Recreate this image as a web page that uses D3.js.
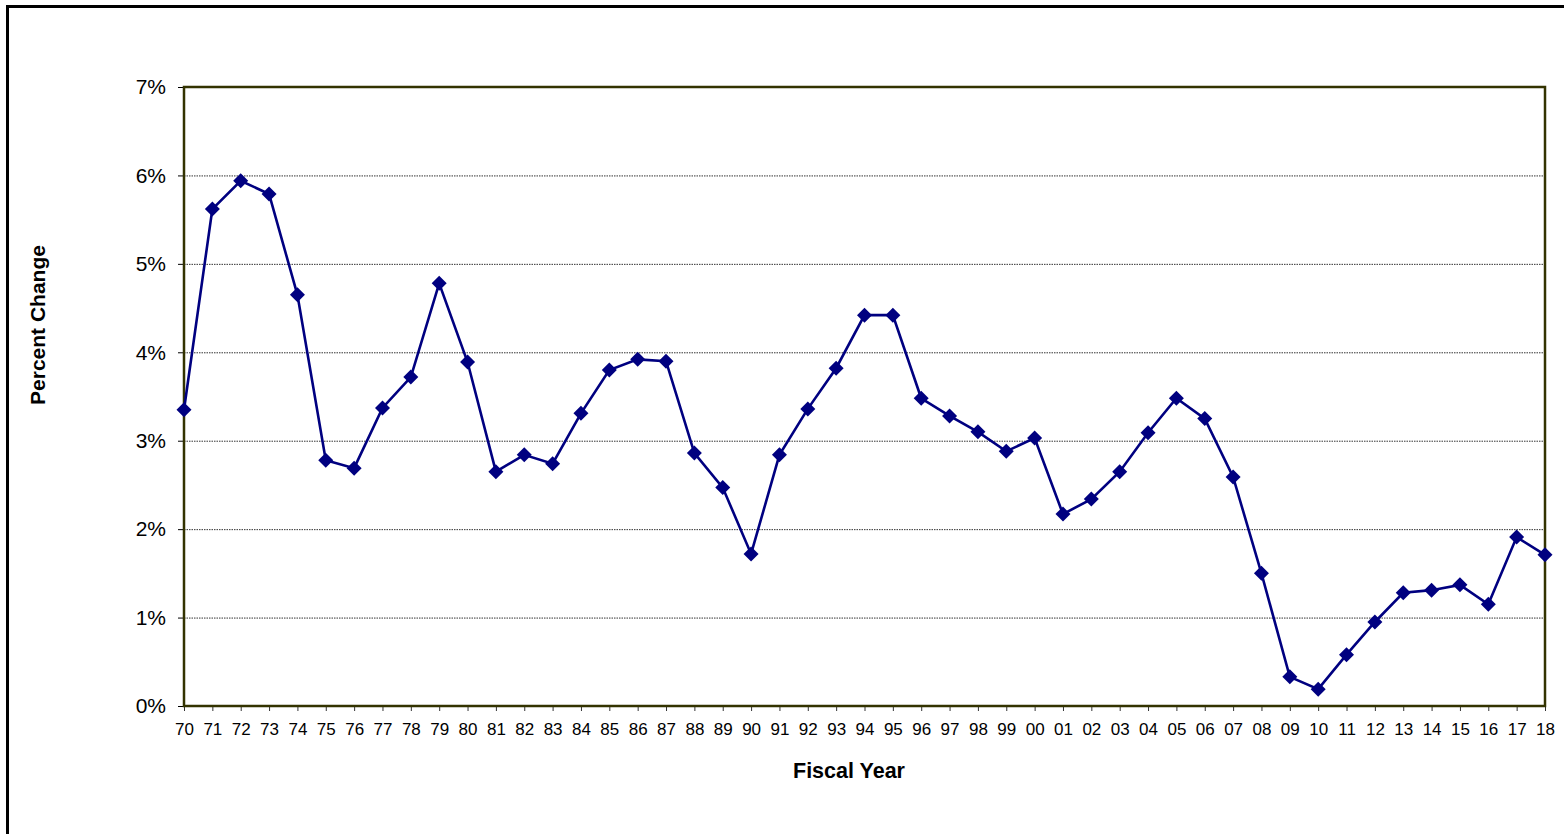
<!DOCTYPE html>
<html>
<head>
<meta charset="utf-8">
<script src="https://cdn.jsdelivr.net/npm/d3@7"></script>
<style>
  body { margin: 0; background: #fff; }
  svg { display: block; font-family: "Liberation Sans", Arial, sans-serif; }
</style>
</head>
<body>
<svg id="chart" width="1564" height="834"></svg>
<script>
const years = ['70','71','72','73','74','75','76','77','78','79','80','81','82','83','84','85','86','87','88','89',
  '90','91','92','93','94','95','96','97','98','99','00','01','02','03','04','05','06','07','08','09',
  '10','11','12','13','14','15','16','17','18'];
const pctChange = [3.35, 5.62, 5.94, 5.79, 4.65, 2.78, 2.69, 3.37, 3.72, 4.78, 3.89, 2.65, 2.84, 2.74, 3.31, 3.80, 3.92, 3.90, 2.86, 2.47,
  1.72, 2.84, 3.36, 3.82, 4.42, 4.42, 3.48, 3.28, 3.10, 2.88, 3.03, 2.17, 2.34, 2.65, 3.09, 3.48, 3.25, 2.59, 1.50, 0.33,
  0.19, 0.58, 0.95, 1.28, 1.31, 1.37, 1.15, 1.91, 1.71];
const yTicks = [0, 1, 2, 3, 4, 5, 6, 7];

const svg = d3.select('#chart');
const margin = { top: 87, left: 184, right: 19, bottom: 128 };
const width = 1564 - margin.left - margin.right;
const height = 834 - margin.top - margin.bottom;

// outer chart frame
svg.append('rect')
  .attr('x', 7.5).attr('y', 6.5)
  .attr('width', 1600).attr('height', 900)
  .attr('fill', 'none').attr('stroke', '#000').attr('stroke-width', 3);

const g = svg.append('g').attr('transform', `translate(${margin.left},${margin.top})`);

const x = d3.scalePoint().domain(years).range([0, width]).padding(0);
const y = d3.scaleLinear().domain([0, 7]).range([height, 0]);

// gridlines
g.append('g')
  .selectAll('line')
  .data(yTicks.slice(1, -1))
  .join('line')
  .attr('x1', 0).attr('x2', width)
  .attr('y1', d => y(d) + 0.5).attr('y2', d => y(d) + 0.5)
  .attr('stroke', '#333').attr('stroke-width', 1)
  .attr('stroke-dasharray', '1.5,1');

// y axis
const yAxis = g.append('g')
  .call(d3.axisLeft(y).tickValues(yTicks).tickFormat(d => d + '%').tickSize(6).tickPadding(12));
yAxis.select('.domain').remove();
yAxis.selectAll('line').attr('stroke', '#000');
yAxis.selectAll('text').attr('font-size', 21).attr('fill', '#000');

// x axis
const xAxis = g.append('g')
  .attr('transform', `translate(0,${height})`)
  .call(d3.axisBottom(x).tickSize(5).tickPadding(12));
xAxis.select('.domain').remove();
xAxis.selectAll('line').attr('stroke', '#333');
xAxis.selectAll('text')
  .attr('font-family', '"Liberation Sans Narrow", "Liberation Sans", Arial, sans-serif')
  .attr('font-size', 17).attr('fill', '#000');

// plot frame
g.append('rect')
  .attr('x', 0).attr('y', 0)
  .attr('width', width).attr('height', height)
  .attr('fill', 'none').attr('stroke', '#333300').attr('stroke-width', 2.5);

// series line
const line = d3.line()
  .x((d, i) => x(years[i]))
  .y(d => y(d));
g.append('path')
  .datum(pctChange)
  .attr('d', line)
  .attr('fill', 'none')
  .attr('stroke', '#000080')
  .attr('stroke-width', 2.6);

// diamond markers
g.append('g')
  .selectAll('path')
  .data(pctChange)
  .join('path')
  .attr('transform', (d, i) => `translate(${x(years[i])},${y(d)})`)
  .attr('d', 'M0,-7.5L7.5,0L0,7.5L-7.5,0Z')
  .attr('fill', '#000080');

// axis titles
svg.append('text')
  .attr('x', 849).attr('y', 778)
  .attr('text-anchor', 'middle')
  .attr('font-size', 21.5).attr('font-weight', 'bold')
  .text('Fiscal Year');

svg.append('text')
  .attr('transform', 'translate(45,325) rotate(-90)')
  .attr('text-anchor', 'middle')
  .attr('font-size', 21).attr('font-weight', 'bold')
  .text('Percent Change');
</script>
</body>
</html>
